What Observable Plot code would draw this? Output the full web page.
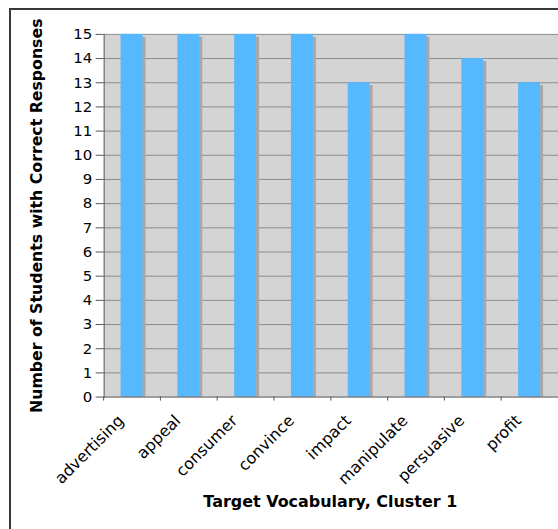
<!DOCTYPE html>
<html>
<head>
<meta charset="utf-8">
<script src="https://cdn.jsdelivr.net/npm/d3@7"></script>
<script src="https://cdn.jsdelivr.net/npm/@observablehq/plot@0.6"></script>
<style>
  html, body { margin: 0; padding: 0; background: #fff; overflow: hidden; width: 558px; height: 529px; }
  #wrap { position: relative; width: 558px; height: 529px; overflow: hidden; }
  #border { position: absolute; left: 9px; top: 8px; width: 640px; height: 640px; border: 2px solid #3a3a3a; box-sizing: border-box; }
  #chart { position: absolute; left: 0; top: 0; }
</style>
</head>
<body>
<div id="wrap">
  <div id="border"></div>
  <div id="chart"></div>
</div>
<script>
const categories = ["advertising", "appeal", "consumer", "convince", "impact", "manipulate", "persuasive", "profit"];
const counts = [15, 15, 15, 15, 13, 15, 14, 13];
const yTicks = [0, 1, 2, 3, 4, 5, 6, 7, 8, 9, 10, 11, 12, 13, 14, 15];
const gridLines = [1, 2, 3, 4, 5, 6, 7, 8, 9, 10, 11, 12, 13, 14, 15];
const yTitle = "Number of Students with Correct Responses";
const xTitle = "Target Vocabulary, Cluster 1";

const data = categories.map((c, i) => ({category: c, count: counts[i]}));

const chart = Plot.plot({
  width: 560,
  height: 529,
  marginLeft: 104,
  marginRight: 0,
  marginTop: 34,
  marginBottom: 131,
  style: {fontFamily: "DejaVu Sans, Verdana, sans-serif", fontSize: "15px", background: "transparent", color: "#000"},
  x: {domain: categories, paddingInner: 0.614, paddingOuter: 0.307, label: null},
  y: {domain: [0, 15], label: null},
  marks: [
    Plot.frame({fill: "#d4d4d4", stroke: null}),
    Plot.ruleY(gridLines, {stroke: "#8c8c8c", strokeWidth: 1}),
    Plot.barY(data, {x: "category", y: "count", fill: "#a8a8a8", dx: 3, insetTop: 3}),
    Plot.barY(data, {x: "category", y: "count", fill: "#56b9ff"}),
    Plot.ruleY([0], {stroke: "#555", strokeWidth: 1}),
    Plot.frame({anchor: "left", stroke: "#555"}),
    Plot.axisY({ticks: yTicks, tickSize: 8, tickPadding: 4, stroke: "#555", label: null}),
    Plot.axisX({tickSize: 4, tickFormat: () => "", dx: -28.5, stroke: "#555", label: null}),
    Plot.axisX({tickSize: 0, tickRotate: -45, tickPadding: 21, dx: -11, fontSize: 16, label: null}),
    Plot.text([yTitle], {frameAnchor: "left", dx: -67, rotate: -90, textAnchor: "middle", fontWeight: "bold", fontSize: 15.8}),
    Plot.text([xTitle], {frameAnchor: "bottom", dx: -1, dy: 110, fontWeight: "bold", fontSize: 16})
  ]
});
document.getElementById("chart").appendChild(chart);
</script>
</body>
</html>
